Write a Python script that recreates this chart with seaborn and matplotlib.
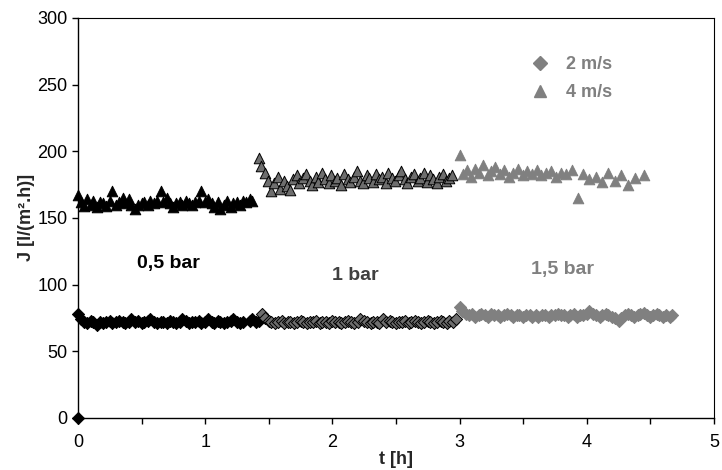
import matplotlib
matplotlib.use("Agg")
import matplotlib.pyplot as plt
from matplotlib.lines import Line2D
import seaborn as sns
import pandas as pd

# 0,5 bar - 4 m/s (triangles)
t_tri_05 = [0.00, 0.02, 0.05, 0.07, 0.10, 0.12, 0.15, 0.17, 0.20, 0.22,
            0.25, 0.27, 0.30, 0.32, 0.35, 0.37, 0.40, 0.42, 0.45, 0.47,
            0.50, 0.52, 0.55, 0.57, 0.60, 0.62, 0.65, 0.67, 0.70, 0.72,
            0.75, 0.77, 0.80, 0.82, 0.85, 0.87, 0.90, 0.92, 0.95, 0.97,
            1.00, 1.02, 1.05, 1.07, 1.10, 1.12, 1.15, 1.17, 1.20, 1.22,
            1.25, 1.27, 1.30, 1.32, 1.35, 1.37]
J_tri_05 = [167, 162, 159, 164, 160, 163, 158, 162, 161, 159,
            163, 170, 160, 162, 165, 161, 164, 160, 157, 160,
            161, 162, 160, 163, 161, 163, 170, 162, 165, 161,
            158, 161, 162, 160, 163, 161, 160, 162, 163, 170,
            162, 164, 161, 158, 162, 157, 160, 163, 158, 161,
            162, 160, 163, 162, 164, 163]

# 0,5 bar - 2 m/s (diamonds), incl. the zero point at t=0
t_dia_05 = [0.00, 0.00, 0.02, 0.05, 0.07, 0.10, 0.12, 0.15, 0.17, 0.20, 0.22,
            0.25, 0.27, 0.30, 0.32, 0.35, 0.37, 0.40, 0.42, 0.45, 0.47,
            0.50, 0.52, 0.55, 0.57, 0.60, 0.62, 0.65, 0.67, 0.70, 0.72,
            0.75, 0.77, 0.80, 0.82, 0.85, 0.87, 0.90, 0.92, 0.95, 0.97,
            1.00, 1.02, 1.05, 1.07, 1.10, 1.12, 1.15, 1.17, 1.20, 1.22,
            1.25, 1.27, 1.30, 1.35, 1.37, 1.40, 1.42]
J_dia_05 = [0, 78, 74, 72, 71, 73, 72, 70, 72, 71, 72,
            73, 71, 72, 73, 72, 71, 72, 74, 72, 73,
            71, 72, 73, 74, 72, 71, 72, 72, 71, 73,
            72, 71, 72, 74, 73, 71, 72, 72, 73, 71,
            72, 74, 72, 71, 73, 72, 71, 72, 73, 74,
            72, 71, 72, 73, 74, 72, 73]

# 1 bar - 4 m/s
t_tri_1 = [1.42, 1.44, 1.47, 1.49, 1.52, 1.54, 1.57, 1.59, 1.62, 1.64,
           1.67, 1.69, 1.72, 1.74, 1.77, 1.79, 1.82, 1.84, 1.87, 1.89,
           1.92, 1.94, 1.97, 1.99, 2.02, 2.04, 2.07, 2.09, 2.12, 2.14,
           2.17, 2.19, 2.22, 2.24, 2.27, 2.29, 2.32, 2.34, 2.37, 2.39,
           2.42, 2.44, 2.47, 2.49, 2.52, 2.54, 2.57, 2.59, 2.62, 2.64,
           2.67, 2.69, 2.72, 2.74, 2.77, 2.79, 2.82, 2.84, 2.87, 2.89,
           2.92, 2.94]
J_tri_1 = [195, 189, 184, 178, 170, 176, 181, 172, 178, 174,
           171, 179, 182, 176, 180, 183, 178, 175, 181, 177,
           184, 179, 176, 182, 178, 180, 175, 183, 179, 177,
           181, 185, 178, 176, 182, 180, 177, 183, 179, 181,
           176, 184, 180, 178, 182, 185, 179, 176, 181, 183,
           178, 180, 184, 177, 182, 179, 176, 181, 183, 178,
           180, 182]

# 1 bar - 2 m/s
t_dia_1 = [1.45, 1.47, 1.50, 1.52, 1.55, 1.57, 1.60, 1.62, 1.65, 1.67,
           1.70, 1.72, 1.75, 1.77, 1.80, 1.82, 1.85, 1.87, 1.90, 1.92,
           1.95, 1.97, 2.00, 2.02, 2.05, 2.07, 2.10, 2.12, 2.15, 2.17,
           2.20, 2.22, 2.25, 2.27, 2.30, 2.32, 2.35, 2.37, 2.40, 2.42,
           2.45, 2.47, 2.50, 2.52, 2.55, 2.57, 2.60, 2.62, 2.65, 2.67,
           2.70, 2.72, 2.75, 2.77, 2.80, 2.82, 2.85, 2.87, 2.90, 2.92,
           2.95, 2.97]
J_dia_1 = [78, 75, 73, 72, 71, 72, 73, 71, 72, 72,
           71, 72, 73, 72, 71, 72, 72, 73, 71, 72,
           72, 71, 73, 72, 72, 71, 72, 73, 72, 71,
           72, 74, 73, 72, 71, 72, 72, 71, 74, 72,
           73, 72, 71, 72, 72, 73, 71, 72, 73, 72,
           71, 72, 73, 72, 71, 72, 73, 72, 71, 73,
           72, 74]

# 1,5 bar - 4 m/s
t_tri_15 = [3.00, 3.03, 3.06, 3.09, 3.12, 3.15, 3.18, 3.22, 3.25, 3.28,
            3.32, 3.35, 3.39, 3.42, 3.46, 3.50, 3.53, 3.57, 3.61, 3.64,
            3.68, 3.72, 3.76, 3.80, 3.84, 3.88, 3.93, 3.97, 4.02, 4.07,
            4.12, 4.17, 4.22, 4.27, 4.32, 4.38, 4.45]
J_tri_15 = [197, 183, 186, 181, 187, 184, 190, 182, 185, 188,
            183, 186, 181, 184, 187, 182, 185, 183, 186, 182,
            184, 185, 181, 184, 183, 186, 165, 183, 179, 181,
            177, 184, 178, 182, 175, 180, 182]

# 1,5 bar - 2 m/s
t_dia_15 = [3.00, 3.02, 3.05, 3.07, 3.10, 3.12, 3.15, 3.17, 3.20, 3.22,
            3.25, 3.27, 3.30, 3.32, 3.35, 3.37, 3.40, 3.42, 3.45, 3.47,
            3.50, 3.52, 3.55, 3.57, 3.60, 3.62, 3.65, 3.67, 3.70, 3.72,
            3.75, 3.77, 3.80, 3.82, 3.85, 3.87, 3.90, 3.92, 3.95, 3.97,
            4.00, 4.02, 4.05, 4.07, 4.10, 4.12, 4.15, 4.17, 4.20, 4.22,
            4.25, 4.27, 4.30, 4.32, 4.35, 4.37, 4.40, 4.42, 4.45, 4.47,
            4.50, 4.52, 4.55, 4.57, 4.60, 4.62, 4.65, 4.67]
J_dia_15 = [83, 80, 78, 77, 78, 76, 77, 78, 77, 76,
            78, 77, 77, 76, 77, 78, 77, 76, 77, 77,
            76, 77, 77, 76, 77, 76, 77, 77, 76, 77,
            77, 78, 77, 77, 76, 77, 78, 76, 77, 77,
            78, 80, 78, 77, 76, 77, 78, 77, 76, 75,
            73, 75, 77, 78, 77, 76, 77, 78, 79, 77,
            76, 77, 78, 77, 76, 77, 76, 77]

pressure_labels = ["0,5 bar", "1 bar", "1,5 bar"]
speed_labels = ["2 m/s", "4 m/s"]

sns.set_style("ticks")
plt.rcParams["font.family"] = ["Liberation Sans", "DejaVu Sans"]

fig = plt.figure(figsize=(7.22, 4.70), dpi=100)
ax = fig.add_axes([0.108, 0.111, 0.881, 0.851])

# (fill, edge) per pressure
styles = [("black", "black"), ("#6e6e6e", "black"), ("#808080", "#808080")]
series = [
    (t_dia_05, J_dia_05, t_tri_05, J_tri_05),
    (t_dia_1, J_dia_1, t_tri_1, J_tri_1),
    (t_dia_15, J_dia_15, t_tri_15, J_tri_15),
]

for (td, jd, tt, jt), (fc, ec) in zip(series, styles):
    d1 = pd.DataFrame({"t": td, "J": jd})
    d2 = pd.DataFrame({"t": tt, "J": jt})
    sns.scatterplot(data=d1, x="t", y="J", marker="D", s=38, color=fc,
                    edgecolor=ec, linewidth=0.7, ax=ax, zorder=3, clip_on=False)
    sns.scatterplot(data=d2, x="t", y="J", marker="^", s=58, color=fc,
                    edgecolor=ec, linewidth=0.7, ax=ax, zorder=3, clip_on=False)

# pressure annotations
ax.text(0.71, 115.5, pressure_labels[0], color="black", fontsize=14,
        fontweight="bold", ha="center", va="center")
ax.text(2.18, 107, pressure_labels[1], color="#404040", fontsize=14,
        fontweight="bold", ha="center", va="center")
ax.text(3.81, 111, pressure_labels[2], color="#808080", fontsize=14,
        fontweight="bold", ha="center", va="center")

handles = [
    Line2D([], [], ls="none", marker="D", ms=7, color="#808080"),
    Line2D([], [], ls="none", marker="^", ms=9, color="#808080"),
]
leg = ax.legend(handles, speed_labels, loc="upper left", bbox_to_anchor=(0.687, 0.945),
                frameon=False, handlelength=1.0, handletextpad=0.9,
                labelspacing=0.6, prop={"weight": "bold", "size": 13})
for txt in leg.get_texts():
    txt.set_color("#808080")

ax.set_xlim(0, 5)
ax.set_ylim(0, 300)
ax.set_xticks([0, 1, 2, 3, 4, 5])
ax.set_xticks([0.5, 1.5, 2.5, 3.5, 4.5], minor=True)
ax.set_yticks(range(0, 301, 50))
ax.tick_params(axis="both", which="both", direction="out", length=4, width=1,
               color="black", labelsize=13, labelcolor="black")
ax.tick_params(axis="x", which="major", pad=8)

ax.set_xlabel("t [h]", fontsize=13, fontweight="bold", labelpad=0)
ax.set_ylabel("J [l/(m².h)]", fontsize=13, fontweight="bold", labelpad=2)

for side in ["top", "right", "left", "bottom"]:
    ax.spines[side].set_visible(True)
    ax.spines[side].set_color("black")
    ax.spines[side].set_linewidth(1.0)
ax.spines["top"].set_linewidth(0.8)
ax.spines["right"].set_linewidth(0.8)

fig.savefig("out.png", dpi=100, facecolor="white")
